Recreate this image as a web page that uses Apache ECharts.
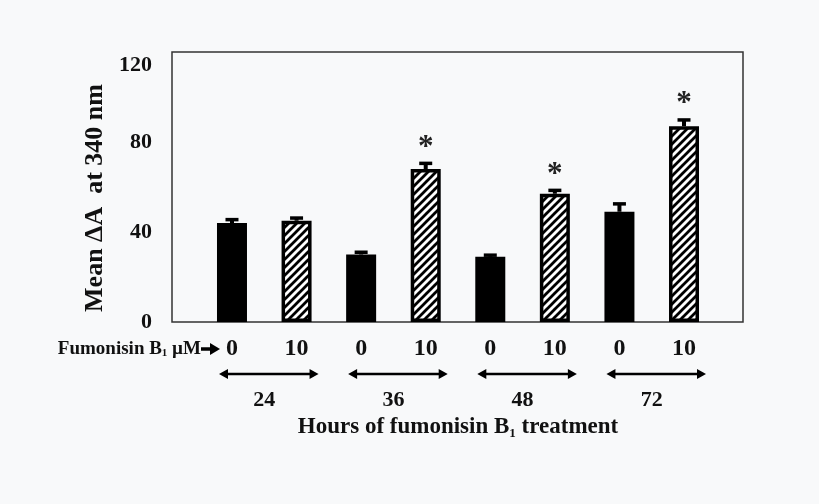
<!DOCTYPE html>
<html>
<head>
<meta charset="utf-8">
<script src="https://cdn.jsdelivr.net/npm/echarts@6/dist/echarts.min.js"></script>
<style>
  html, body { margin: 0; padding: 0; background: #f8f9fa; }
  #chart { width: 819px; height: 504px; }
</style>
</head>
<body>
<div id="chart"></div>
<script>
// Treatment duration groups (hours) and fumonisin B1 doses (µM)
const hours = ['24', '36', '48', '72'];
const doses = ['0', '10'];
// Mean ΔA at 340 nm with one-sided error (SE)
const control = [44, 30, 29, 49];
const controlErr = [1.5, 1.0, 0.7, 3.5];
const treated = [45, 68, 57, 87];
const treatedErr = [1.2, 2.5, 1.5, 2.8];
const significant = [false, true, true, true];
const yTicks = [0, 40, 80, 120];

const FONT = 'Liberation Serif';

// Diagonal hatch fill for the treated bars
function hatchPattern() {
  const c = document.createElement('canvas');
  c.width = 8; c.height = 8;
  const g = c.getContext('2d');
  g.fillStyle = '#ffffff';
  g.fillRect(0, 0, 8, 8);
  g.strokeStyle = '#000000';
  g.lineWidth = 2.8;
  g.beginPath();
  g.moveTo(-2, 10); g.lineTo(10, -2);
  g.moveTo(-2, 2); g.lineTo(2, -2);
  g.moveTo(6, 10); g.lineTo(10, 6);
  g.stroke();
  return c;
}
const hatch = { image: hatchPattern(), repeat: 'repeat' };

// One bar per hour x dose combination
const cats = [];
const barData = [];
const errData = [];
hours.forEach((h, i) => {
  cats.push(doses[0], doses[1]);
  barData.push({ value: control[i], itemStyle: { color: '#000', borderColor: '#000', borderWidth: 0 } });
  barData.push({ value: treated[i], itemStyle: { color: hatch, borderColor: '#000', borderWidth: 3.5 } });
  errData.push([2 * i, control[i], controlErr[i], 0]);
  errData.push([2 * i + 1, treated[i], treatedErr[i], significant[i] ? 1 : 0]);
});

const chart = echarts.init(document.getElementById('chart'), null, { renderer: 'canvas' });

const option = {
  backgroundColor: '#f8f9fa',
  animation: false,
  grid: [
    // plot frame + y axis
    { left: 172, right: 76, top: 52, bottom: 182, show: true, borderColor: '#333', borderWidth: 1.5, backgroundColor: 'transparent' },
    // bar area
    { left: 199.7, right: 102.7, top: 52, bottom: 182 }
  ],
  xAxis: [
    { gridIndex: 0, type: 'value', min: 0, max: 1, show: false },
    {
      gridIndex: 1, type: 'category', data: cats, boundaryGap: true,
      axisLine: { show: false }, axisTick: { show: false }, splitLine: { show: false },
      axisLabel: { margin: 15, color: '#111', fontFamily: FONT, fontWeight: 'bold', fontSize: 24 }
    },
    {
      gridIndex: 1, type: 'category', data: hours, position: 'bottom', offset: 60,
      axisLine: { show: false }, axisTick: { show: false }, splitLine: { show: false },
      axisLabel: { margin: 7, color: '#111', fontFamily: FONT, fontWeight: 'bold', fontSize: 22 },
      name: '{a|Hours of fumonisin B}{s|1}{a| treatment}',
      nameLocation: 'middle', nameGap: 33,
      nameTextStyle: {
        rich: {
          a: { fontFamily: FONT, fontWeight: 'bold', fontSize: 23, color: '#111' },
          s: { fontFamily: FONT, fontWeight: 'bold', fontSize: 13, color: '#111', padding: [12, 0, 0, 0] }
        }
      }
    }
  ],
  yAxis: [
    {
      gridIndex: 0, type: 'value', min: 0, max: 120, interval: 40,
      axisLine: { show: false }, axisTick: { show: false }, splitLine: { show: false },
      axisLabel: {
        margin: 20,
        formatter: v => yTicks.indexOf(v) < 0 ? '' : (v === 120 ? '{t|' + v + '}' : '{n|' + v + '}'),
        rich: {
          n: { fontFamily: FONT, fontWeight: 'bold', fontSize: 22, color: '#111' },
          t: { fontFamily: FONT, fontWeight: 'bold', fontSize: 22, color: '#111', padding: [26, 0, 0, 0] }
        }
      },
      name: 'Mean ΔA  at 340 nm',
      nameLocation: 'middle', nameRotate: 90, nameGap: 62,
      nameTextStyle: { fontFamily: FONT, fontWeight: 'bold', fontSize: 26, color: '#111', padding: [0, 22, 0, 0] }
    },
    { gridIndex: 1, type: 'value', min: 0, max: 120, show: false }
  ],
  series: [
    {
      type: 'bar', xAxisIndex: 1, yAxisIndex: 1, data: barData, barWidth: 30, z: 2
    },
    {
      type: 'custom', xAxisIndex: 1, yAxisIndex: 1, data: errData, z: 3,
      renderItem: (params, api) => {
        const x = api.value(0), v = api.value(1), e = api.value(2), star = api.value(3);
        const top = api.coord([x, v + e]);
        const base = api.coord([x, v]);
        const children = [
          { type: 'line', shape: { x1: top[0], y1: base[1], x2: top[0], y2: top[1] }, style: { stroke: '#000', lineWidth: 4 } },
          { type: 'line', shape: { x1: top[0] - 6.5, y1: top[1], x2: top[0] + 6.5, y2: top[1] }, style: { stroke: '#000', lineWidth: 3.5 } }
        ];
        if (star) {
          children.push({
            type: 'text', x: top[0], y: top[1] - 31,
            style: { text: '*', fontFamily: FONT, fontWeight: 'bold', fontSize: 31, fill: '#222', align: 'center', verticalAlign: 'top' }
          });
        }
        return { type: 'group', children };
      }
    }
  ]
};
chart.setOption(option);

// Dose row caption and duration brackets under the bars
const graphics = [];
graphics.push({
  type: 'text', x: 201, y: 349,
  style: {
    text: '{a|Fumonisin B}{s|1}{a| µM}',
    align: 'right', verticalAlign: 'middle',
    rich: {
      a: { fontFamily: FONT, fontWeight: 'bold', fontSize: 19, fill: '#111' },
      s: { fontFamily: FONT, fontWeight: 'bold', fontSize: 11, fill: '#111', padding: [9, 0, 0, 0] }
    }
  }
});
graphics.push({ type: 'line', shape: { x1: 201, y1: 349, x2: 212, y2: 349 }, style: { stroke: '#000', lineWidth: 3.5 } });
graphics.push({ type: 'polygon', shape: { points: [[210, 343], [220, 349], [210, 355]] }, style: { fill: '#000' } });

const arrowY = 374;
hours.forEach((h, i) => {
  const x0 = chart.convertToPixel({ xAxisIndex: 1 }, 2 * i) - 13;
  const x1 = chart.convertToPixel({ xAxisIndex: 1 }, 2 * i + 1) + 22;
  graphics.push({ type: 'line', shape: { x1: x0 + 6, y1: arrowY, x2: x1 - 6, y2: arrowY }, style: { stroke: '#000', lineWidth: 2.3 } });
  graphics.push({ type: 'polygon', shape: { points: [[x0, arrowY], [x0 + 9, arrowY - 5], [x0 + 9, arrowY + 5]] }, style: { fill: '#000' } });
  graphics.push({ type: 'polygon', shape: { points: [[x1, arrowY], [x1 - 9, arrowY - 5], [x1 - 9, arrowY + 5]] }, style: { fill: '#000' } });
});
chart.setOption({ graphic: graphics });
</script>
</body>
</html>
